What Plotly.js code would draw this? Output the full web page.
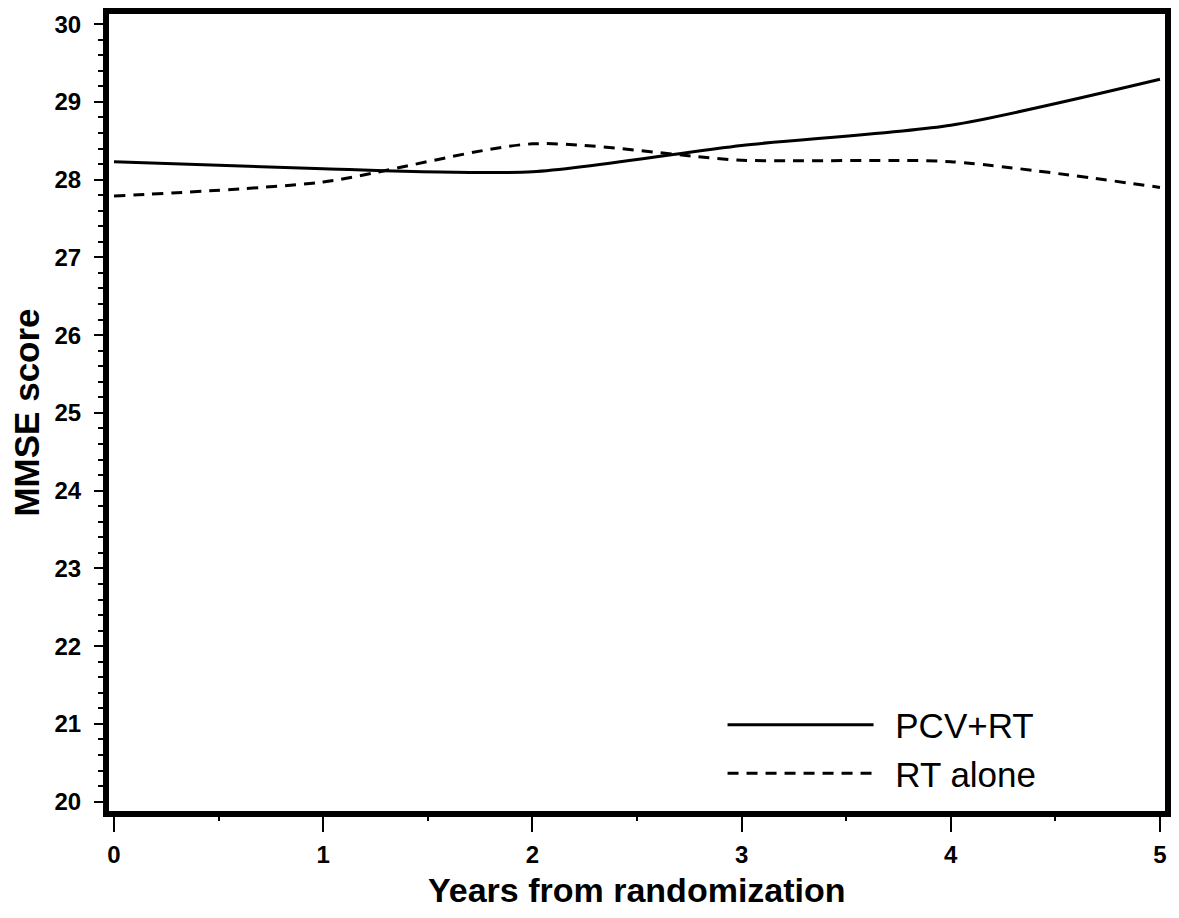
<!DOCTYPE html>
<html>
<head>
<meta charset="utf-8">
<script src="https://cdn.plot.ly/plotly-3.0.1.min.js"></script>
<style>
  html, body { margin: 0; padding: 0; background: #fff; }
  #chart { width: 1179px; height: 918px; }
</style>
</head>
<body>
<div id="chart"></div>
<script>
const years = [0, 1, 2, 3, 4, 5];
const pcvRT = [28.23, 28.14, 28.10, 28.44, 28.70, 29.29];
const rtAlone = [27.79, 27.97, 28.46, 28.25, 28.23, 27.90];
const seriesNames = ['\u00a0\u2009PCV+RT', '\u00a0\u2009RT alone'];
const xTickVals = [0, 1, 2, 3, 4, 5];
const yTickVals = [20, 21, 22, 23, 24, 25, 26, 27, 28, 29, 30];
const xTitle = 'Years from randomization';
const yTitle = 'MMSE score';

const FONT = 'Liberation Sans, Arial, Helvetica, sans-serif';

const traces = [
  {
    x: years, y: pcvRT, name: seriesNames[0], type: 'scatter', mode: 'lines',
    line: { color: '#000', width: 3, shape: 'spline', smoothing: 0.7 }
  },
  {
    x: years, y: rtAlone, name: seriesNames[1], type: 'scatter', mode: 'lines',
    line: { color: '#000', width: 3, shape: 'spline', smoothing: 0.7, dash: '11px,8px' }
  }
];

const layout = {
  width: 1179, height: 918,
  margin: { l: 109, r: 14, t: 14, b: 107, pad: 0 },
  paper_bgcolor: '#fff', plot_bgcolor: '#fff',
  font: { family: FONT, color: '#000' },
  showlegend: true,
  legend: {
    x: 0.581, y: 0.145, xanchor: 'left', yanchor: 'top',
    bgcolor: 'rgba(0,0,0,0)', borderwidth: 0,
    font: { family: FONT, size: 35, color: '#000' },
    itemwidth: 146
  },
  xaxis: {
    range: [-0.024, 5.024],
    tickvals: xTickVals, ticktext: xTickVals.map(String),
    ticks: 'outside', ticklen: 15, tickwidth: 2, tickcolor: '#000',
    minor: { dtick: 0.5, ticks: 'outside', ticklen: 4, tickwidth: 2, tickcolor: '#000' },
    showgrid: false, zeroline: false,
    showline: true, linewidth: 6, linecolor: '#000', mirror: true,
    tickfont: { family: FONT, size: 24, weight: 'bold', color: '#000' },
    ticklabelstandoff: 2
  },
  yaxis: {
    range: [19.88, 30.13],
    tickvals: yTickVals, ticktext: yTickVals.map(String),
    ticks: 'outside', ticklen: 9, tickwidth: 2, tickcolor: '#000',
    minor: { dtick: 0.2, ticks: 'outside', ticklen: 5, tickwidth: 2, tickcolor: '#000' },
    showgrid: false, zeroline: false,
    showline: true, linewidth: 6, linecolor: '#000', mirror: true,
    tickfont: { family: FONT, size: 24, weight: 'bold', color: '#000' },
    ticklabelstandoff: 8,
    title: { text: yTitle, standoff: 6,
             font: { family: FONT, size: 35, weight: 'bold', color: '#000' } }
  },
  annotations: [
    {
      text: xTitle, xref: 'paper', yref: 'paper', x: 0.5, y: -0.099,
      xanchor: 'center', yanchor: 'middle', showarrow: false,
      font: { family: FONT, size: 34, weight: 'bold', color: '#000' }
    }
  ]
};

Plotly.newPlot('chart', traces, layout, { staticPlot: true, displayModeBar: false });
</script>
</body>
</html>
